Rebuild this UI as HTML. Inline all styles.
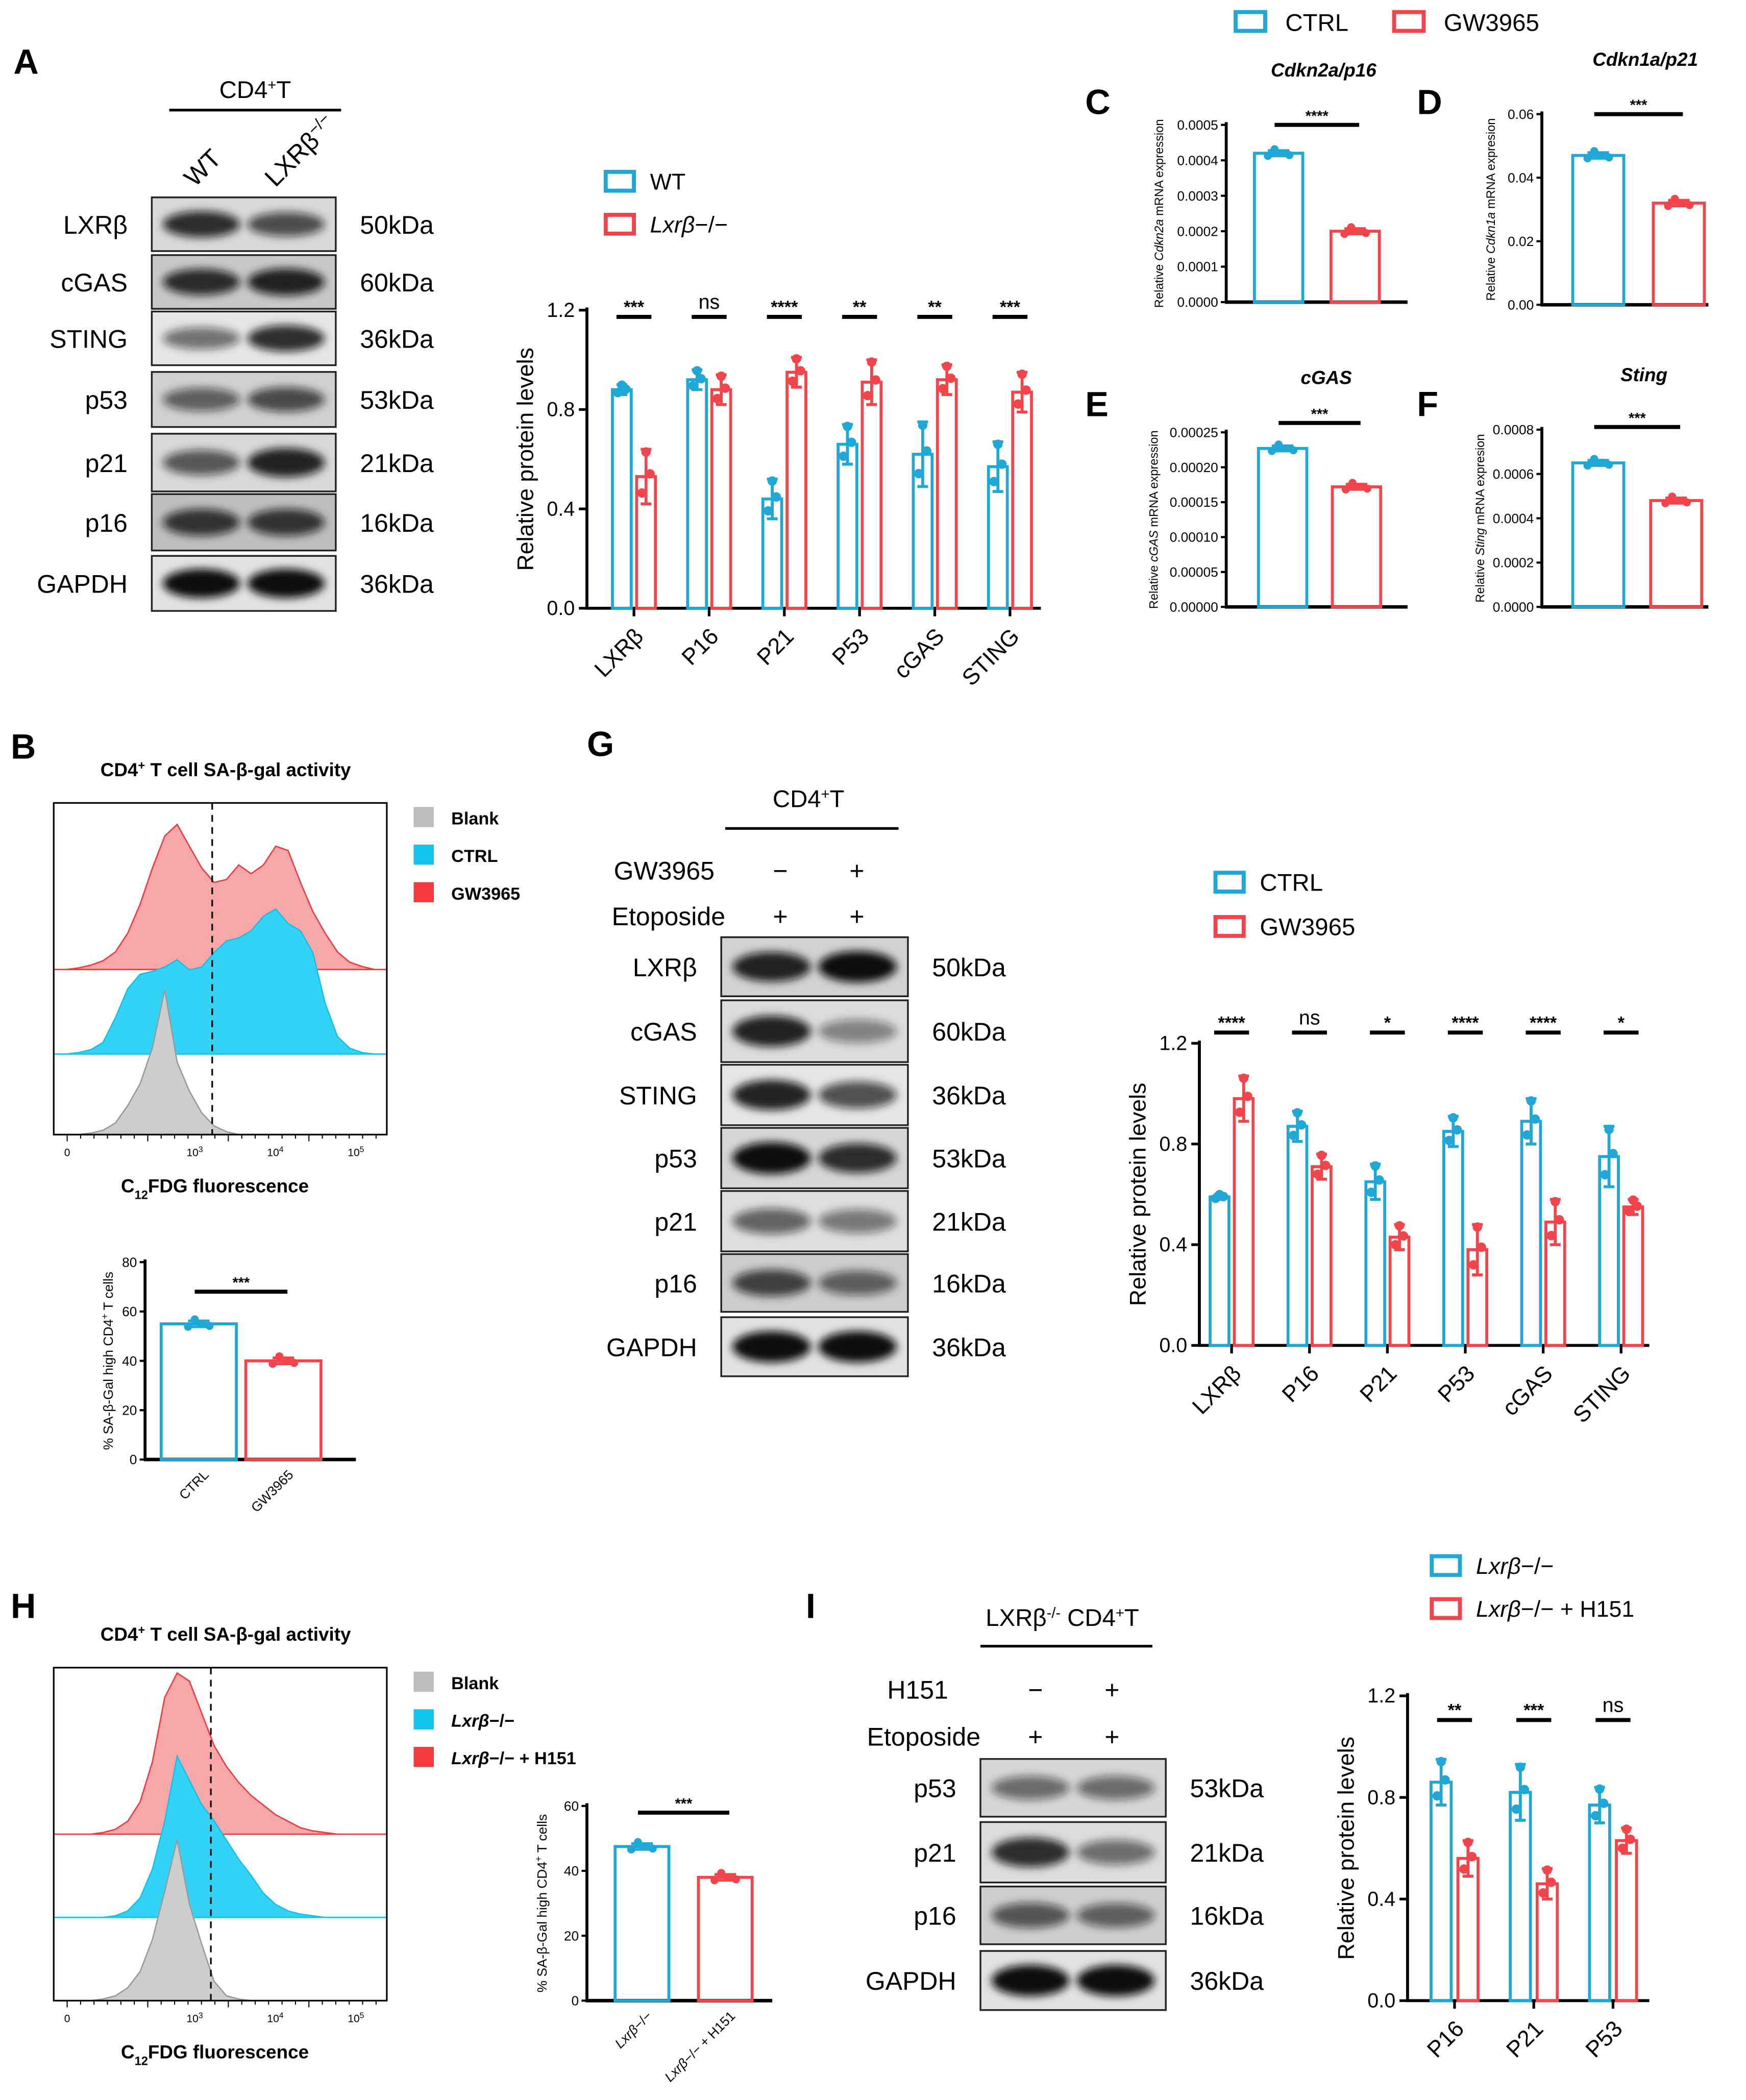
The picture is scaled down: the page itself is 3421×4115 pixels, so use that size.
<!DOCTYPE html>
<html><head><meta charset="utf-8"><style>
html,body{margin:0;padding:0;background:#fff}
svg{display:block}
text{font-family:"Liberation Sans",Arial,sans-serif;fill:#000}
</style></head><body>
<svg id="fig" xmlns="http://www.w3.org/2000/svg" width="3421" height="4115" viewBox="0 0 1300 1564" preserveAspectRatio="none">
<defs>
<filter id="blur" x="-20%" y="-50%" width="140%" height="200%"><feGaussianBlur stdDeviation="3"/></filter>
</defs>
</svg>
<script>
// ---------- DATA ----------
const catsA=["LXRβ","P16","P21","P53","cGAS","STING"];
const wtA=[0.88,0.92,0.44,0.66,0.62,0.57];
const wtAsd=[0.02,0.04,0.08,0.08,0.13,0.10];
const koA=[0.53,0.88,0.95,0.91,0.92,0.87];
const koAsd=[0.11,0.06,0.06,0.09,0.06,0.08];
const sigA=["***","ns","****","**","**","***"];
const ticksA=[0,0.4,0.8,1.2];

const catsG=["LXRβ","P16","P21","P53","cGAS","STING"];
const ctrlG=[0.59,0.87,0.65,0.85,0.89,0.75];
const ctrlGsd=[0.01,0.06,0.07,0.06,0.09,0.12];
const gwG=[0.98,0.71,0.43,0.38,0.49,0.55];
const gwGsd=[0.09,0.05,0.05,0.10,0.09,0.03];
const sigG=["****","ns","*","****","****","*"];

const catsI=["P16","P21","P53"];
const koI=[0.86,0.82,0.77];
const koIsd=[0.09,0.11,0.07];
const h151I=[0.56,0.46,0.63];
const h151Isd=[0.07,0.06,0.05];
const sigI=["**","***","ns"];

const cVals=[0.00042,0.00020]; const cTicks=[0,0.0001,0.0002,0.0003,0.0004,0.0005];
const dVals=[0.047,0.032]; const dTicks=[0,0.02,0.04,0.06];
const eVals=[0.000227,0.000172]; const eTicks=[0,0.00005,0.0001,0.00015,0.0002,0.00025];
const fVals=[0.00065,0.00048]; const fTicks=[0,0.0002,0.0004,0.0006,0.0008];
const bVals=[55,40]; const bTicks=[0,20,40,60,80];
const hVals=[47.5,38]; const hTicks=[0,20,40,60];

// histogram density profiles (relative heights, 0..1) sampled evenly across x
const histRedB=[0,0,0.01,0.03,0.06,0.12,0.25,0.45,0.7,0.92,1,0.85,0.7,0.6,0.62,0.72,0.66,0.72,0.85,0.82,0.6,0.4,0.25,0.12,0.05,0.02,0,0];
const histBlueB=[0,0,0.01,0.03,0.08,0.25,0.45,0.55,0.57,0.6,0.65,0.58,0.6,0.7,0.78,0.8,0.85,0.95,1,0.9,0.85,0.7,0.35,0.12,0.04,0.01,0,0];
const histGrayB=[0,0,0,0.01,0.03,0.08,0.2,0.35,0.6,1,0.5,0.3,0.15,0.06,0.02,0,0,0,0,0,0,0,0,0,0,0,0,0];
const histRedH=[0,0,0,0,0.01,0.03,0.08,0.2,0.45,0.85,1,0.95,0.75,0.55,0.42,0.32,0.24,0.18,0.12,0.08,0.04,0.02,0.01,0,0,0,0,0];
const histBlueH=[0,0,0,0,0,0.01,0.04,0.12,0.3,0.6,1,0.85,0.7,0.6,0.48,0.36,0.26,0.15,0.08,0.04,0.02,0.01,0,0,0,0,0,0];
const histGrayH=[0,0,0,0,0.01,0.03,0.08,0.18,0.38,0.68,1,0.6,0.35,0.12,0.03,0.01,0,0,0,0,0,0,0,0,0,0,0,0];

// ---------- helpers ----------
const NS="http://www.w3.org/2000/svg";
const svg=document.getElementById('fig');
const BLUE="#1fa7d5", RED="#f2454b";
function el(tag,attrs,parent){const e=document.createElementNS(NS,tag);for(const k in attrs)e.setAttribute(k,attrs[k]);(parent||svg).appendChild(e);return e;}
function txt(x,y,s,size,opts,parent){opts=opts||{};const t=el('text',{x:x,y:y,'font-size':size,'text-anchor':opts.anchor||'start','font-weight':opts.bold?'bold':'normal','font-style':opts.italic?'italic':'normal'},parent);if(opts.rot)t.setAttribute('transform','rotate('+opts.rot+' '+x+' '+y+')');t.innerHTML=s;return t;}
function grp(name){const g=el('g',{});return g;}

// panel letters
[["A",10,55],["B",8,565],["C",808,85],["D",1055,85],["E",808,310],["F",1055,310],["G",437,563],["H",8,1205],["I",600,1205]].forEach(p=>{
  const t=txt(p[1],p[2],p[0],26,{bold:true});
  
  
});

// ---------- grouped bar chart ----------
function groupedChart(name,cfg){
  const g=grp(name);
  const y=v=>cfg.y0-(v/cfg.ymax)*(cfg.y0-cfg.yTop);
  const xc=i=>cfg.xStart+i*cfg.step;
  el('line',{x1:cfg.x0,y1:cfg.yTop-2,x2:cfg.x0,y2:cfg.y0+1,stroke:'#000','stroke-width':2.2},g);
  el('line',{x1:cfg.x0-1,y1:cfg.y0,x2:cfg.xEnd,y2:cfg.y0,stroke:'#000','stroke-width':2.2},g);
  cfg.ticks.forEach(tk=>{el('line',{x1:cfg.x0-6,y1:y(tk),x2:cfg.x0,y2:y(tk),stroke:'#000','stroke-width':2},g);txt(cfg.x0-9,y(tk)+5,tk.toFixed(1),15,{anchor:'end'},g);});
  const yl=txt(cfg.x0-40,(cfg.y0+cfg.yTop)/2,'Relative protein levels',17,{anchor:'middle',rot:-90},g);
  
  cfg.cats.forEach((c,i)=>{
    const cx=xc(i);
    el('line',{x1:cx,y1:cfg.y0,x2:cx,y2:cfg.y0+6,stroke:'#000','stroke-width':2},g);
    const t=txt(cx+8,cfg.y0+22,c,17,{anchor:'end',rot:-45},g);
    
    [[cfg.a,cfg.asd,BLUE,-cfg.off],[cfg.b,cfg.bsd,RED,cfg.off]].forEach((s,j)=>{
      const v=s[0][i],sd=s[1][i],bx=cx+s[3];
      const r=el('rect',{x:bx-cfg.bw/2,y:y(v),width:cfg.bw,height:cfg.y0-y(v),fill:'none',stroke:s[2],'stroke-width':2.2},g);
      
      el('line',{x1:bx,y1:y(v+sd),x2:bx,y2:y(v-sd),stroke:s[2],'stroke-width':2.2},g);
      el('line',{x1:bx-4,y1:y(v+sd),x2:bx+4,y2:y(v+sd),stroke:s[2],'stroke-width':2.2},g);
      el('line',{x1:bx-4,y1:y(v-sd),x2:bx+4,y2:y(v-sd),stroke:s[2],'stroke-width':2.2},g);
      [[0,sd*0.9],[-3,-sd*0.6],[3,sd*0.1]].forEach(p=>el('circle',{cx:bx+p[0],cy:y(v+p[1]),r:3.5,fill:s[2]},g));
    });
    const sy=cfg.sigY;
    el('line',{x1:cx-13,y1:sy,x2:cx+13,y2:sy,stroke:'#000','stroke-width':3},g);
    const st=txt(cx,sy-(cfg.sig[i]==='ns'?6:3),cfg.sig[i],cfg.sig[i]==='ns'?15:13,{anchor:'middle',bold:cfg.sig[i]!=='ns'},g);
    
  });
}
groupedChart('chart-a',{x0:437,y0:453,yTop:231,ymax:1.2,ticks:ticksA,xStart:472,step:56,xEnd:775,off:9,bw:14,cats:catsA,a:wtA,asd:wtAsd,b:koA,bsd:koAsd,sig:sigA,sigY:236});
groupedChart('chart-g',{x0:893,y0:1002,yTop:777,ymax:1.2,ticks:ticksA,xStart:917,step:58,xEnd:1228,off:9,bw:14,cats:catsG,a:ctrlG,asd:ctrlGsd,b:gwG,bsd:gwGsd,sig:sigG,sigY:769});
groupedChart('chart-i',{x0:1048,y0:1490,yTop:1263,ymax:1.2,ticks:ticksA,xStart:1083,step:59,xEnd:1228,off:10,bw:15,cats:catsI,a:koI,asd:koIsd,b:h151I,bsd:h151Isd,sig:sigI,sigY:1281});

// ---------- two-bar charts ----------
function twoBar(name,cfg){
  const g=grp(name);
  const y=v=>cfg.y0-(v/cfg.ymax)*(cfg.y0-cfg.yTop);
  el('line',{x1:cfg.x0,y1:cfg.yTop-2,x2:cfg.x0,y2:cfg.y0,stroke:'#000','stroke-width':2.2},g);
  el('line',{x1:cfg.x0-1,y1:cfg.y0,x2:cfg.xEnd,y2:cfg.y0,stroke:'#000','stroke-width':2.6},g);
  cfg.ticks.forEach(tk=>{el('line',{x1:cfg.x0-4,y1:y(tk),x2:cfg.x0,y2:y(tk),stroke:'#000','stroke-width':1.6},g);txt(cfg.x0-6,y(tk)+3.5,cfg.fmt(tk),cfg.fs,{anchor:'end'},g);});
  const yl=txt(cfg.ylx,(cfg.y0+cfg.yTop)/2,cfg.ylabel,cfg.yfs,{anchor:'middle',rot:-90},g);
  
  [[BLUE,cfg.xs[0]],[RED,cfg.xs[1]]].forEach((s,i)=>{
    const v=cfg.vals[i],bx=s[1],sd=cfg.ymax*0.015;
    const r=el('rect',{x:bx-cfg.bw/2,y:y(v),width:cfg.bw,height:cfg.y0-y(v),fill:'none',stroke:s[0],'stroke-width':2.2},g);
    
    el('line',{x1:bx-8,y1:y(v+sd),x2:bx+8,y2:y(v+sd),stroke:s[0],'stroke-width':2},g);
    el('line',{x1:bx,y1:y(v+sd),x2:bx,y2:y(v-sd),stroke:s[0],'stroke-width':2},g);
    el('line',{x1:bx-8,y1:y(v-sd),x2:bx+8,y2:y(v-sd),stroke:s[0],'stroke-width':2},g);
    [[-8,-1],[-3,1.5],[3,0],[8,-0.7]].forEach(p=>el('circle',{cx:bx+p[0],cy:y(v+p[1]*sd),r:3,fill:s[0]},g));
  });
  el('line',{x1:cfg.xs[0]-3,y1:cfg.sigY,x2:cfg.xs[1]+3,y2:cfg.sigY,stroke:'#000','stroke-width':3},g);
  txt((cfg.xs[0]+cfg.xs[1])/2,cfg.sigY-3,cfg.sig,11,{anchor:'middle',bold:true},g);
  if(cfg.title){const t=txt((cfg.xs[0]+cfg.xs[1])/2+5,cfg.yTop-36,cfg.title,14,{anchor:'middle',bold:true,italic:true},g);}
  if(cfg.xl){cfg.xl.forEach((l,i)=>{const t=txt(cfg.xs[i]+8,cfg.y0+12,l,10,{anchor:'end',rot:-45},g);});}
  return g;
}
const f4=v=>v.toFixed(4), f5=v=>v.toFixed(5), f2=v=>v.toFixed(2);
twoBar('chart-c',{x0:913,y0:225,yTop:93,ymax:0.0005,ticks:cTicks,fmt:f4,fs:10,vals:cVals,xs:[952,1009],bw:36,xEnd:1048,ylx:866,ylabel:'Relative <tspan font-style="italic">Cdkn2a</tspan> mRNA expression',yfs:9,sig:'****',sigY:93,title:'Cdkn2a/p16'});
twoBar('chart-d',{x0:1148,y0:227,yTop:85,ymax:0.06,ticks:dTicks,fmt:f2,fs:10,vals:dVals,xs:[1190,1250],bw:38,xEnd:1272,ylx:1113,ylabel:'Relative <tspan font-style="italic">Cdkn1a</tspan> mRNA expresion',yfs:9,sig:'***',sigY:85,title:'Cdkn1a/p21'});
twoBar('chart-e',{x0:913,y0:452,yTop:322,ymax:0.00025,ticks:eTicks,fmt:f5,fs:10,vals:eVals,xs:[955,1010],bw:36,xEnd:1048,ylx:862,ylabel:'Relative <tspan font-style="italic">cGAS</tspan> mRNA expression',yfs:9,sig:'***',sigY:315,title:'cGAS'});
twoBar('chart-f',{x0:1148,y0:452,yTop:320,ymax:0.0008,ticks:fTicks,fmt:f4,fs:10,vals:fVals,xs:[1190,1248],bw:38,xEnd:1272,ylx:1105,ylabel:'Relative <tspan font-style="italic">Sting</tspan> mRNA expresion',yfs:9,sig:'***',sigY:318,title:'Sting'});
twoBar('chart-b-bar',{x0:108,y0:1087,yTop:940,ymax:80,ticks:bTicks,fmt:v=>String(v),fs:10,vals:bVals,xs:[148,211],bw:56,xEnd:265,ylx:84,ylabel:'% SA-β-Gal high CD4<tspan baseline-shift="super" font-size="7">+</tspan> T cells',yfs:10,sig:'***',sigY:962,xl:['CTRL','GW3965']});
twoBar('chart-h-bar',{x0:437,y0:1490,yTop:1345,ymax:60,ticks:hTicks,fmt:v=>String(v),fs:10,vals:hVals,xs:[478,540],bw:40,xEnd:575,ylx:407,ylabel:'% SA-β-Gal high CD4<tspan baseline-shift="super" font-size="7">+</tspan> T cells',yfs:10,sig:'***',sigY:1350,xl:['<tspan font-style="italic">Lxrβ</tspan>−/−','<tspan font-style="italic">Lxrβ</tspan>−/− + H151']});

// ---------- legends ----------
function legend(name,items,x,y,dy,fs,sz){
  const g=grp(name);
  items.forEach((it,i)=>{
    const yy=y+i*dy;
    el('rect',{x:x,y:yy-sz/2,width:sz*1.5,height:sz,fill:'none',stroke:it[1],'stroke-width':3},g);
    const t=txt(x+sz*1.5+12,yy+fs*0.36,it[0],fs,{},g);
    
  });
}
legend('legend-a',[['WT',BLUE],['<tspan font-style="italic">Lxrβ</tspan>−/−',RED]],451,135,32,17,14);
legend('legend-g',[['CTRL',BLUE],['GW3965',RED]],905,657,33,18,14);
legend('legend-i',[['<tspan font-style="italic">Lxrβ</tspan>−/−',BLUE],['<tspan font-style="italic">Lxrβ</tspan>−/− + H151',RED]],1066,1166,32,17,14);
{const g=grp('legend-top');
 el('rect',{x:920,y:9,width:22,height:14,fill:'none',stroke:BLUE,'stroke-width':3},g);txt(957,23,'CTRL',18,{},g);
 el('rect',{x:1038,y:9,width:22,height:14,fill:'none',stroke:RED,'stroke-width':3},g);txt(1075,23,'GW3965',18,{},g);}

// ---------- flow histograms ----------
function flow(name,cfg){
  const g=grp(name);
  txt(cfg.x0+128,cfg.y0-20,'CD4<tspan baseline-shift="super" font-size="9">+</tspan> T cell SA-β-gal activity',14,{anchor:'middle',bold:true},g);
  const w=cfg.x1-cfg.x0;
  const hists=[[cfg.red,'#f8a7a8','#ee3a3f',cfg.base[0]],[cfg.blue,'#33d3f5','#12c1ea',cfg.base[1]],[cfg.gray,'#cdcdcd','#9a9a9a',cfg.base[2]]];
  hists.forEach((h,k)=>{
    const n=h[0].length;
    let d='M'+cfg.x0+','+h[3];
    h[0].forEach((v,i)=>{d+=' L'+(cfg.x0+i*w/(n-1)).toFixed(1)+','+(h[3]-v*cfg.hmax).toFixed(1);});
    d+=' L'+cfg.x1+','+h[3]+' Z';
    const p=el('path',{d:d,fill:h[1],stroke:h[2],'stroke-width':1},g);
    
  });
  el('rect',{x:cfg.x0,y:cfg.y0,width:w,height:cfg.base[2]-cfg.y0,fill:'none',stroke:'#000','stroke-width':1.2},g);
  el('line',{x1:cfg.dash,y1:cfg.y0,x2:cfg.dash,y2:cfg.base[2],stroke:'#000','stroke-width':1.2,'stroke-dasharray':'5,4'},g);
  [['0',50],['10<tspan baseline-shift="super" font-size="6">3</tspan>',145],['10<tspan baseline-shift="super" font-size="6">4</tspan>',205],['10<tspan baseline-shift="super" font-size="6">5</tspan>',265]].forEach(t=>txt(t[1],cfg.base[2]+16,t[0],8,{anchor:'middle'},g));
  for(let i=0;i<24;i++){el('line',{x1:cfg.x0+10+i*10,y1:cfg.base[2],x2:cfg.x0+10+i*10,y2:cfg.base[2]+(i%6===0?5:3),stroke:'#000','stroke-width':0.8},g);}
  txt(cfg.x0+120,cfg.base[2]+43,'C<tspan baseline-shift="sub" font-size="9">12</tspan>FDG fluorescence',14,{anchor:'middle',bold:true},g);
  const lg=[['#bdbdbd',cfg.labels[0]],['#14c4ef',cfg.labels[1]],['#f43a3f',cfg.labels[2]]];
  lg.forEach((l,i)=>{const yy=cfg.y0+3+i*cfg.ldy;el('rect',{x:308,y:yy,width:15,height:15,fill:l[0]},g);const t=txt(336,yy+13,l[1],13,{bold:true},g);});
}
flow('flow-b',{x0:40,x1:288,y0:598,base:[722,785,845],hmax:108,dash:158,red:histRedB,blue:histBlueB,gray:histGrayB,labels:['Blank','CTRL','GW3965'],ldy:28});
flow('flow-h',{x0:40,x1:288,y0:1242,base:[1366,1428,1490],hmax:120,dash:157,red:histRedH,blue:histBlueH,gray:histGrayH,labels:['Blank','<tspan font-style="italic">Lxrβ</tspan>−/−','<tspan font-style="italic">Lxrβ</tspan>−/− + H151'],ldy:28});

// ---------- western blots ----------
function blot(name,cfg){
  const g=grp(name);
  const w=cfg.x1-cfg.x0;
  cfg.rows.forEach((r,i)=>{
    const y0=r[1],y1=r[2],h=y1-y0,cy=(y0+y1)/2;
    const rg=el('g',{},g);
    el('rect',{x:cfg.x0,y:y0,width:w,height:h,fill:r[5]||'#dcdcdc',stroke:'#222','stroke-width':1.3},rg);
    [0,1].forEach(l=>{
      const lx=cfg.x0+w*(l?0.73:0.27);
      const dark=r[3+l];
      el('ellipse',{cx:lx,cy:cy,rx:w*0.21,ry:h*0.22*(0.6+dark*0.6),fill:'#111','fill-opacity':dark,filter:'url(#blur)'},rg);
    });
    txt(cfg.x0-18,cy+7,r[0],19,{anchor:'end'},rg);
    txt(cfg.x1+18,cy+7,r[6],19,{},rg);
  });
}
blot('blot-a',{x0:113,x1:250,rows:[
 ['LXRβ',147,187,0.85,0.7,'#d8d8d8','50kDa'],['cGAS',190,230,0.85,0.9,'#c8c8c8','60kDa'],['STING',232,272,0.55,0.85,'#e6e6e6','36kDa'],
 ['p53',277,318,0.6,0.7,'#d0d0d0','53kDa'],['p21',323,366,0.65,0.9,'#d8d8d8','21kDa'],['p16',368,410,0.8,0.8,'#bebebe','16kDa'],['GAPDH',414,455,1,1,'#e2e2e2','36kDa']]});
blot('blot-g',{x0:537,x1:676,rows:[
 ['LXRβ',698,742,0.9,1,'#d2d2d2','50kDa'],['cGAS',745,791,0.9,0.45,'#dcdcdc','60kDa'],['STING',793,838,0.9,0.7,'#e6e6e6','36kDa'],
 ['p53',840,885,1,0.85,'#d6d6d6','53kDa'],['p21',887,932,0.6,0.5,'#dedede','21kDa'],['p16',934,977,0.75,0.6,'#cccccc','16kDa'],['GAPDH',981,1025,1,1,'#e2e2e2','36kDa']]});
blot('blot-i',{x0:730,x1:868,rows:[
 ['p53',1310,1353,0.55,0.55,'#d6d6d6','53kDa'],['p21',1357,1402,0.85,0.55,'#dcdcdc','21kDa'],['p16',1405,1448,0.65,0.6,'#cecece','16kDa'],['GAPDH',1453,1497,1,1,'#e2e2e2','36kDa']]});

// blot headers
{const g=grp('blot-a-header');
 txt(190,73,'CD4<tspan baseline-shift="super" font-size="11">+</tspan>T',18,{anchor:'middle'},g);
 el('line',{x1:126,y1:82,x2:254,y2:82,stroke:'#000','stroke-width':2},g);
 txt(145,140,'WT',19,{rot:-45},g);
 txt(205,140,'LXRβ<tspan baseline-shift="super" font-size="12">−/−</tspan>',19,{rot:-45},g);}
{const g=grp('blot-g-header');
 txt(602,601,'CD4<tspan baseline-shift="super" font-size="11">+</tspan>T',18,{anchor:'middle'},g);
 el('line',{x1:540,y1:617,x2:669,y2:617,stroke:'#000','stroke-width':2},g);
 txt(532,655,'GW3965',19,{anchor:'end'},g);txt(581,655,'−',19,{anchor:'middle'},g);txt(638,655,'+',19,{anchor:'middle'},g);
 txt(540,689,'Etoposide',19,{anchor:'end'},g);txt(581,689,'+',19,{anchor:'middle'},g);txt(638,689,'+',19,{anchor:'middle'},g);}
{const g=grp('blot-i-header');
 txt(791,1211,'LXRβ<tspan baseline-shift="super" font-size="11">-/-</tspan> CD4<tspan baseline-shift="super" font-size="11">+</tspan>T',18,{anchor:'middle'},g);
 el('line',{x1:730,y1:1226,x2:858,y2:1226,stroke:'#000','stroke-width':2},g);
 txt(706,1265,'H151',19,{anchor:'end'},g);txt(771,1265,'−',19,{anchor:'middle'},g);txt(828,1265,'+',19,{anchor:'middle'},g);
 txt(730,1300,'Etoposide',19,{anchor:'end'},g);txt(771,1300,'+',19,{anchor:'middle'},g);txt(828,1300,'+',19,{anchor:'middle'},g);}
</script>
</body></html>
